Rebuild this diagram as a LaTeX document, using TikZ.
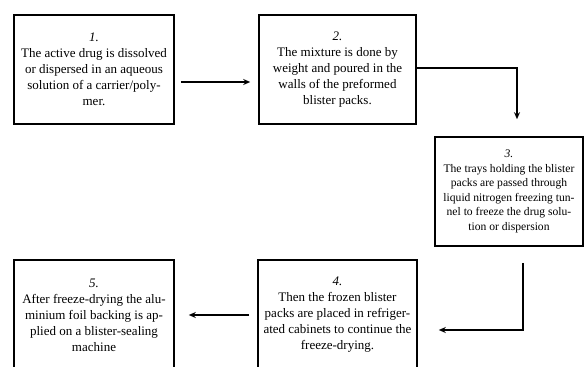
\documentclass[tikz,border=0pt]{standalone}
\usepackage{fontspec}
\setmainfont{Liberation Serif}
\usetikzlibrary{arrows.meta}
\begin{document}
\begin{tikzpicture}[x=1pt,y=-1pt,
  box/.style={draw,line width=1.6pt,align=center,inner sep=0pt,
    font=\fontsize{13}{16}\selectfont},
  arr/.style={line width=1.6pt,-{Stealth[length=7pt,width=6pt]}}]
\useasboundingbox (0,0) rectangle (584,367);
\node[box,minimum width=160pt,minimum height=109pt] (b1) at (94,69.5)
  {\textit{1.}\\The active drug is dissolved\\or dispersed in an aqueous\\solution of a carrier/poly-\\mer.};
\node[box,minimum width=157pt,minimum height=109pt] (b2) at (337.5,69.5)
  {\textit{2.}\\The mixture is done by\\weight and poured in the\\walls of the preformed\\blister packs.};
\node[box,minimum width=148pt,minimum height=109pt,font=\fontsize{11.6}{14.5}\selectfont] (b3) at (509,191.5)
  {\textit{3.}\\The trays holding the blister\\packs are passed through\\liquid nitrogen freezing tun-\\nel to freeze the drug solu-\\tion or dispersion};
\node[box,minimum width=159pt,minimum height=110pt] (b4) at (337.5,315)
  {\textit{4.}\\Then the frozen blister\\packs are placed in refriger-\\ated cabinets to continue the\\freeze-drying.};
\node[box,minimum width=160pt,minimum height=110pt] (b5) at (94,315)
  {\textit{5.}\\After freeze-drying the alu-\\minium foil backing is ap-\\plied on a blister-sealing\\machine};
\coordinate (a1s) at ([xshift=6pt,yshift=-12.5pt]b1.east);
\coordinate (a1e) at ([xshift=-8pt,yshift=-12.5pt]b2.west);
\draw[arr] (a1s) -- (a1e);
\coordinate (a2e) at ([xshift=8pt,yshift=17pt]b3.north);
\draw[arr] ([yshift=1.5pt]b2.east) -| (a2e);
\coordinate (a3s) at ([xshift=14pt,yshift=-16pt]b3.south);
\coordinate (a3e) at ([xshift=21pt,yshift=-15pt]b4.east);
\draw[arr] (a3s) |- (a3e);
\coordinate (a4s) at ([xshift=-8pt]b4.west);
\coordinate (a4e) at ([xshift=14pt]b5.east);
\draw[arr] (a4s) -- (a4e);
\end{tikzpicture}
\end{document}
